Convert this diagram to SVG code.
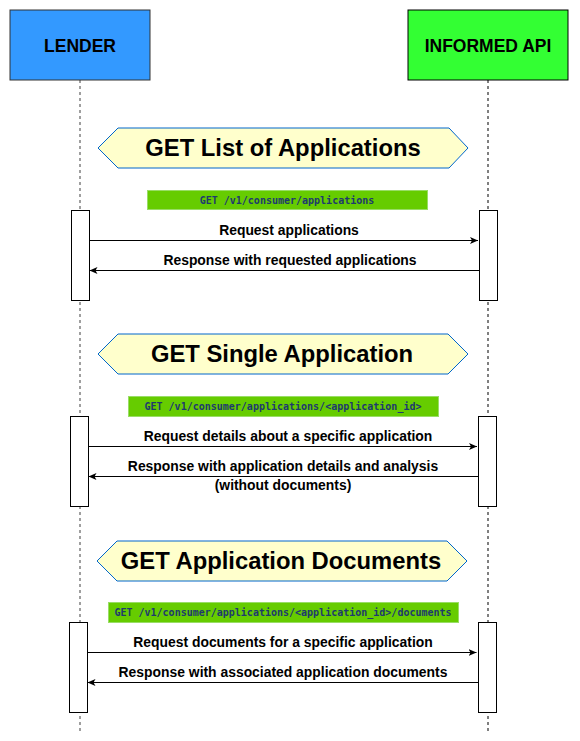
<svg xmlns="http://www.w3.org/2000/svg" width="580" height="741" viewBox="0 0 580 741">
<defs>
<style>
.actor{font-family:"Liberation Sans",Arial,Helvetica,sans-serif;font-weight:bold;font-size:17.5px;fill:#000;text-anchor:middle}
.title{font-family:"Liberation Sans",Arial,Helvetica,sans-serif;font-weight:bold;font-size:23.8px;fill:#000;text-anchor:middle}
.lbl{font-family:"Liberation Sans",Arial,Helvetica,sans-serif;font-weight:bold;font-size:13.9px;fill:#000;text-anchor:middle}
.code{font-family:"DejaVu Sans Mono","Liberation Mono",monospace;font-weight:bold;font-size:10px;fill:#1E3A6E;text-anchor:middle}
.hex{fill:#FFFFCC;stroke:#0066CC;stroke-width:1}
.ep{fill:#66CC00;stroke:#99DD66;stroke-width:1}
.act{fill:#fff;stroke:#000;stroke-width:1}
.msg{stroke:#000;stroke-width:1;fill:none}
</style>
<marker id="ah" markerWidth="10" markerHeight="8" refX="8" refY="4" orient="auto" markerUnits="userSpaceOnUse">
<path d="M0,0.5 L8,4 L0,7.5 L2,4 Z" fill="#000"/>
</marker>
</defs>

<g id="lifelines">
<line x1="80" y1="80" x2="80" y2="731" stroke="#808080" stroke-width="1.5" stroke-dasharray="3,3"/>
<line x1="488" y1="80" x2="488" y2="731" stroke="#000" stroke-width="1" stroke-dasharray="3,3"/>
</g>

<g id="lender">
<rect x="10" y="10" width="140" height="70" fill="#3399FF" stroke="#333"/>
<text class="actor" x="80" y="52">LENDER</text>
</g>
<g id="informed-api">
<rect x="408" y="10" width="160" height="70" fill="#33FF33" stroke="#000"/>
<text class="actor" x="488" y="52">INFORMED API</text>
</g>

<g id="section-list">
<polygon class="hex" points="98,148 118,128 449,128 468,148 449,168 118,168"/>
<text class="title" x="283" y="156">GET List of Applications</text>
</g>
<g id="endpoint-list">
<rect class="ep" x="147.5" y="190.5" width="280" height="19"/>
<text class="code" x="287" y="203.5">GET /v1/consumer/applications</text>
</g>
<g id="act-lender-1"><rect class="act" x="71.5" y="210.5" width="18" height="90"/></g>
<g id="act-api-1"><rect class="act" x="479.5" y="210.5" width="18" height="90"/></g>

<g id="section-single">
<polygon class="hex" points="98,354 118,334 448,334 468,354 448,374 118,374"/>
<text class="title" x="282" y="362">GET Single Application</text>
</g>
<g id="endpoint-single">
<rect class="ep" x="128.5" y="396.5" width="310" height="20"/>
<text class="code" x="283" y="410">GET /v1/consumer/applications/&lt;application_id&gt;</text>
</g>
<g id="act-lender-2"><rect class="act" x="70.5" y="416.5" width="18" height="90"/></g>
<g id="act-api-2"><rect class="act" x="478.5" y="416.5" width="18" height="90"/></g>

<g id="section-docs">
<polygon class="hex" points="97,561 117,541 447,541 467,561 447,581 117,581"/>
<text class="title" x="281" y="569">GET Application Documents</text>
</g>
<g id="endpoint-docs">
<rect class="ep" x="108.5" y="602.5" width="350" height="20"/>
<text class="code" x="283" y="616">GET /v1/consumer/applications/&lt;application_id&gt;/documents</text>
</g>
<g id="act-lender-3"><rect class="act" x="69.5" y="622.5" width="18" height="90"/></g>
<g id="act-api-3"><rect class="act" x="478.5" y="622.5" width="18" height="90"/></g>

<g id="connectors">
<line class="msg" x1="89.5" y1="240.5" x2="478" y2="240.5" marker-end="url(#ah)"/>
<text class="lbl" x="289" y="235">Request applications</text>
<line class="msg" x1="479.5" y1="270.5" x2="89.5" y2="270.5" marker-end="url(#ah)"/>
<text class="lbl" x="290" y="265">Response with requested applications</text>

<line class="msg" x1="88.5" y1="446.5" x2="477" y2="446.5" marker-end="url(#ah)"/>
<text class="lbl" x="288" y="441">Request details about a specific application</text>
<line class="msg" x1="478.5" y1="476.5" x2="88.5" y2="476.5" marker-end="url(#ah)"/>
<text class="lbl" x="283" y="471">Response with application details and analysis</text>
<text class="lbl" x="283" y="490">(without documents)</text>

<line class="msg" x1="87.5" y1="652.5" x2="476.5" y2="652.5" marker-end="url(#ah)"/>
<text class="lbl" x="283" y="647">Request documents for a specific application</text>
<line class="msg" x1="478.5" y1="682.5" x2="87.5" y2="682.5" marker-end="url(#ah)"/>
<text class="lbl" x="283" y="677">Response with associated application documents</text>
</g>
</svg>
